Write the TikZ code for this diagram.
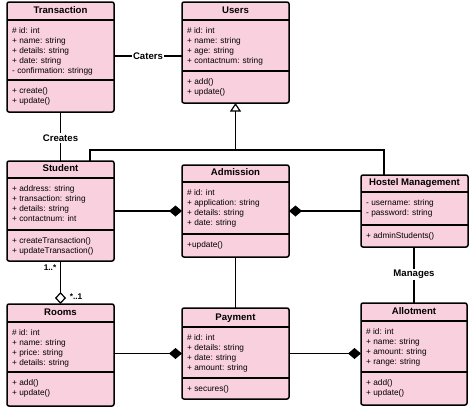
\documentclass[tikz,border=0pt]{standalone}
\usepackage{fontspec}
\setmainfont{Liberation Sans}
\usetikzlibrary{arrows.meta}
\definecolor{boxpink}{HTML}{F9D0DE}
\newcommand\umlclass[9]{%
  \node[classbox, minimum width={#4-#2}, minimum height={#5-#3}] (#1) at (#2,#3) {};
  \draw[divider] (#2,#6) -- (#4,#6);
  \draw[divider] (#2,#7) -- (#4,#7);
  \node[ctitle] (#1-title) at ({(#2+#4)/2},{#6-6.8}) {#8};
  \foreach \t [count=\i from 0] in {#9}
    \node[attr] (#1-at\i) at ({#2+5},{#6+13+10*\i}) {\t};
}
\newcommand\umlops[4]{%
  \foreach \t [count=\i from 0] in {#4}
    \node[attr] (#1-op\i) at ({#2+5},{#3+13+10*\i}) {\t};
}
\begin{document}
\begin{tikzpicture}[x=1pt,y=-1pt,
  classbox/.style={draw=black, fill=boxpink, line width=1.5pt, rounded corners=2pt, inner sep=0pt, outer sep=0pt, anchor=north west},
  divider/.style={line width=1.5pt},
  ctitle/.style={font=\bfseries\fontsize{9.6}{11}\selectfont, inner sep=0pt, anchor=base},
  attr/.style={font=\fontsize{8.3}{10}\selectfont, inner sep=0pt, anchor=base west},
  conn/.style={line width=1.3pt},
  lbl/.style={font=\bfseries\fontsize{9.6}{11}\selectfont, fill=white, inner sep=1.5pt},
  mult/.style={font=\bfseries\fontsize{8.3}{10}\selectfont, inner sep=0pt},
  comp/.style={-{Diamond[length=13pt,width=11pt]}},
  aggr/.style={-{Diamond[open,length=12pt,width=11pt,line width=1.2pt]}},
  gen/.style={-{Triangle[open,length=8.5pt,width=11pt,line width=1.2pt]}}
]
\useasboundingbox (0,0) rectangle (474,408);

\umlclass{trans}{7}{2}{114}{112}{20}{80}{Transaction}{\# id: int, + name: string, + details: string, + date: string, - confirmation: stringg}
\umlops{trans}{7}{80}{+ create(), + update()}

\umlclass{users}{182}{2}{289}{103}{20}{71}{Users}{\# id: int, + name: string, + age: string, + contactnum: string}
\umlops{users}{182}{71}{+ add(), + update()}

\umlclass{student}{7}{161}{114}{261}{178}{230}{Student}{+ address: string, + transaction: string, + details: string, + contactnum: int}
\umlops{student}{7}{230}{+ createTransaction(), + updateTransaction()}

\umlclass{admission}{182}{165}{289}{257}{182}{234}{Admission}{\# id: int, + application: string, + details: string, + date: string}
\umlops{admission}{182}{234}{+update()}

\umlclass{hostel}{361}{175}{468}{247}{192}{225}{Hostel Management}{- username: string, - password: string}
\umlops{hostel}{361}{225}{+ adminStudents()}

\umlclass{rooms}{7}{304}{114}{406}{322}{372}{Rooms}{\# id: int, + name: string, + price: string, + details: string}
\umlops{rooms}{7}{372}{+ add(), + update()}

\umlclass{payment}{182}{308}{289}{399}{327}{378}{Payment}{\# id: int, + details: string, + date: string, + amount: string}
\umlops{payment}{182}{378}{+ secures()}

\umlclass{allot}{361}{303}{467}{405}{321}{372}{Allotment}{\# id: int, + name: string, + amount: string, + range: string}
\umlops{allot}{361}{372}{+ add(), + update()}

% Caters
\draw[conn] ([yshift=1pt]trans.east) -- ([yshift=1pt]trans.east -| users.west)
  node[lbl, midway] (caters) {Caters};
% Creates
\draw[conn] (trans.south) -- (student.north) node[lbl, pos=0.53] (creates) {Creates};
% Generalization
\coordinate (gjoin) at (235.5,150);
\draw[conn, gen] (gjoin) -- (users.south);
\draw[conn] ([xshift=29.5pt]student.north) |- (gjoin) -| ([xshift=-30.5pt]hostel.north);
% Compositions at Admission
\draw[conn, comp] (student.east) -- (admission.west);
\draw[conn, comp] (hostel.west) -- (admission.east);
% Admission - Payment
\draw[conn] (admission.south) -- (payment.north);
% Rooms - Payment
\draw[conn, comp] (rooms.east |- payment.west) -- (payment.west);
% Payment - Allotment
\draw[conn, comp] (payment.east) -- (payment.east -| allot.west);
% Manages
\draw[conn] (hostel.south -| allot.north) -- (allot.north) node[lbl, pos=0.49] (manages) {Manages};
% Student - Rooms aggregation
\draw[conn, aggr] (student.south) -- (rooms.north);
\node[mult] (m1) at (50,268) {1..*};
\node[mult] (m2) at (76,296.5) {*..1};
\end{tikzpicture}
\end{document}
